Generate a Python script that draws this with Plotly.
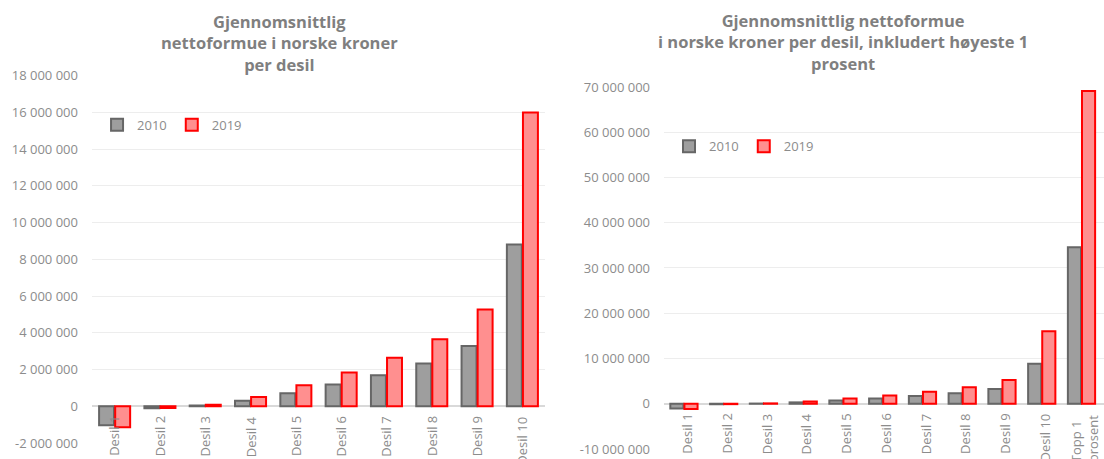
import plotly.graph_objects as go

# ---- data ----
categories_left = ["Desil 1", "Desil 2", "Desil 3", "Desil 4", "Desil 5",
                   "Desil 6", "Desil 7", "Desil 8", "Desil 9", "Desil 10"]
left_2010 = [-1030000, -110000, 40000, 300000, 710000, 1180000, 1690000, 2330000, 3280000, 8810000]
left_2019 = [-1140000, -90000, 80000, 510000, 1140000, 1840000, 2640000, 3650000, 5270000, 16000000]

categories_right = ["Desil 1", "Desil 2", "Desil 3", "Desil 4", "Desil 5", "Desil 6",
                    "Desil 7", "Desil 8", "Desil 9", "Desil 10", "Topp 1<br>prosent"]
right_2010 = [-1030000, -110000, 40000, 300000, 710000, 1180000, 1690000, 2330000, 3280000, 8810000, 34600000]
right_2019 = [-1140000, -90000, 80000, 510000, 1140000, 1840000, 2640000, 3650000, 5270000, 16000000, 69100000]

left_ticks = [-2000000, 0, 2000000, 4000000, 6000000, 8000000, 10000000, 12000000, 14000000, 16000000, 18000000]
left_ticklabels = ["-2 000 000", "0", "2 000 000", "4 000 000", "6 000 000", "8 000 000",
                   "10 000 000", "12 000 000", "14 000 000", "16 000 000", "18 000 000"]
right_ticks = [-10000000, 0, 10000000, 20000000, 30000000, 40000000, 50000000, 60000000, 70000000]
right_ticklabels = ["-10 000 000", "0", "10 000 000", "20 000 000", "30 000 000", "40 000 000",
                    "50 000 000", "60 000 000", "70 000 000"]

title_left = "Gjennomsnittlig<br>nettoformue i norske kroner<br>per desil"
title_right = "Gjennomsnittlig nettoformue<br>i norske kroner per desil, inkludert høyeste 1<br>prosent"

series_names = ["2010", "2019"]

# ---- styles ----
FONT = "Open Sans"
GRAY_TXT = "#8c8c8c"
TITLE_TXT = "#7f7f7f"
fill_2010, line_2010 = "#9e9e9e", "#666666"
fill_2019, line_2019 = "#ff8f8f", "#ff0000"

fig = go.Figure()

for name, vals, fc, lc in [(series_names[0], left_2010, fill_2010, line_2010),
                           (series_names[1], left_2019, fill_2019, line_2019)]:
    fig.add_trace(go.Bar(x=categories_left, y=vals, name=name, xaxis="x", yaxis="y",
                         marker=dict(color=fc, line=dict(color=lc, width=2)),
                         legend="legend"))
for name, vals, fc, lc in [(series_names[0], right_2010, fill_2010, line_2010),
                           (series_names[1], right_2019, fill_2019, line_2019)]:
    fig.add_trace(go.Bar(x=categories_right, y=vals, name=name, xaxis="x2", yaxis="y2",
                         marker=dict(color=fc, line=dict(color=lc, width=2)),
                         legend="legend2"))

annotations = []
for cat in categories_left:
    annotations.append(dict(x=cat, y=0, xref="x", yref="y", text=cat, textangle=-90,
                            yanchor="top", xanchor="center", yshift=-8, showarrow=False,
                            align="left",
                            font=dict(family=FONT, size=13, color=GRAY_TXT)))
for cat in categories_right:
    annotations.append(dict(x=cat, y=0, xref="x2", yref="y2", text=cat, textangle=-90,
                            yanchor="top", xanchor="center", yshift=-8, xshift=3,
                            showarrow=False, align="left",
                            font=dict(family=FONT, size=13, color=GRAY_TXT)))
annotations.append(dict(x=0.2536, y=1.0, xref="paper", yref="paper", xanchor="center",
                        yanchor="top", yshift=-8,
                        text="<b>" + title_left + "</b>", showarrow=False,
                        font=dict(family=FONT, size=16.5, color=TITLE_TXT)))
annotations.append(dict(x=0.7636, y=1.0, xref="paper", yref="paper", xanchor="center",
                        yanchor="top", yshift=-7,
                        text="<b>" + title_right + "</b>", showarrow=False,
                        font=dict(family=FONT, size=16.5, color=TITLE_TXT)))

axis_common = dict(showgrid=False, showline=False, zeroline=False, ticks="",
                   showticklabels=False, fixedrange=True, automargin=False)
yaxis_common = dict(showgrid=True, gridcolor="#ededed", gridwidth=1, zeroline=True,
                    zerolinecolor="#d9d9d9", zerolinewidth=2, showline=False, ticks="",
                    tickfont=dict(family=FONT, size=13, color=GRAY_TXT),
                    ticklabelstandoff=13, automargin=False, fixedrange=True)

fig.update_layout(
    width=1104, height=459,
    margin=dict(l=0, r=0, t=0, b=0, autoexpand=False),
    paper_bgcolor="white", plot_bgcolor="white",
    barmode="group", bargap=0.29, bargroupgap=0.07,
    font=dict(family=FONT, color=GRAY_TXT),
    xaxis=dict(domain=[0.0833, 0.4937], anchor="y", **axis_common),
    yaxis=dict(domain=[0.0349, 0.835], anchor="x", range=[-2000000, 18000000],
               tickvals=left_ticks, ticktext=left_ticklabels, **yaxis_common),
    xaxis2=dict(domain=[0.6015, 1.0], anchor="y2", **axis_common),
    yaxis2=dict(domain=[0.0218, 0.8105], anchor="x2", range=[-10000000, 70000000],
                tickvals=right_ticks, ticktext=right_ticklabels, **yaxis_common),
    legend=dict(orientation="h", x=0.0879, y=0.761, xanchor="left", yanchor="top",
                font=dict(family=FONT, size=13, color=GRAY_TXT), bgcolor="rgba(0,0,0,0)",
                itemwidth=30),
    legend2=dict(orientation="h", x=0.606, y=0.714, xanchor="left", yanchor="top",
                 font=dict(family=FONT, size=13, color=GRAY_TXT), bgcolor="rgba(0,0,0,0)",
                 itemwidth=30),
    annotations=annotations,
)

fig.write_html("out.html", config={"displayModeBar": False},
               post_script="document.body.style.margin='0';document.body.style.overflow='hidden';")
